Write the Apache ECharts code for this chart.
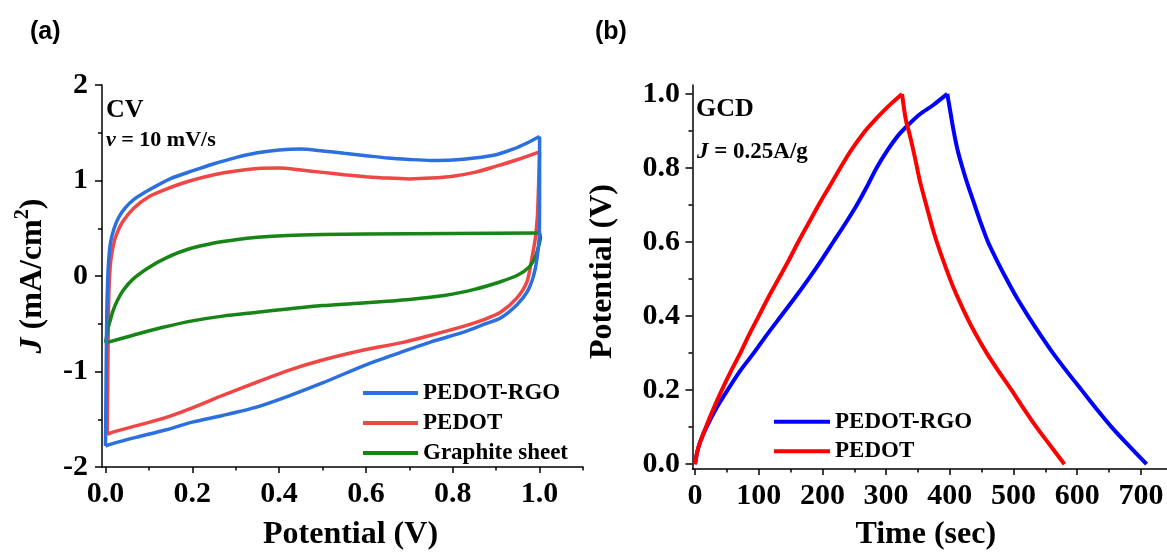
<!DOCTYPE html>
<html><head><meta charset="utf-8">
<script src="https://cdn.jsdelivr.net/npm/echarts@6/dist/echarts.min.js"></script>
<style>html,body{margin:0;padding:0;background:#fff}#c{width:1167px;height:556px}</style>
</head><body><div id="c"></div>
<script>
// ---- tick values ----
const cvXTicks = [0, 0.2, 0.4, 0.6, 0.8, 1.0];
const cvXMinor = [0.1, 0.3, 0.5, 0.7, 0.9, 1.1];
const gcdXTicks = [0, 100, 200, 300, 400, 500, 600, 700];
const gcdXMinor = [50, 150, 250, 350, 450, 550, 650];
const gcdYTicks = [0, 0.2, 0.4, 0.6, 0.8, 1.0];
const gcdYMinor = [0.1, 0.3, 0.5, 0.7, 0.9];

// ---- (a) CV: [potential V, J mA/cm2], anodic (forward) and cathodic (reverse) branches ----
const cvPedotRgoFwd = [
  [0.000,-1.78],[0.001,-1.30],[0.002,-0.80],[0.003,-0.40],[0.005,-0.05],[0.008,0.20],[0.012,0.36],
  [0.02,0.50],[0.03,0.61],[0.045,0.71],[0.065,0.80],[0.10,0.90],[0.15,1.02],[0.20,1.10],[0.25,1.175],
  [0.30,1.24],[0.35,1.29],[0.40,1.32],[0.45,1.33],[0.50,1.31],[0.55,1.285],[0.60,1.26],[0.65,1.235],
  [0.70,1.22],[0.75,1.21],[0.80,1.215],[0.85,1.235],[0.90,1.27],[0.94,1.33],[0.97,1.39],[1.0,1.46]
];
const cvPedotRgoRev = [
  [1.0,1.46],[1.0,1.20],[1.0,0.97],[0.9995,0.45],[0.994,0.18],[0.986,0.0],[0.971,-0.17],[0.948,-0.30],
  [0.91,-0.44],[0.87,-0.51],[0.83,-0.58],[0.75,-0.69],[0.68,-0.80],[0.6,-0.93],[0.5,-1.12],[0.42,-1.26],
  [0.35,-1.37],[0.27,-1.46],[0.2,-1.53],[0.14,-1.61],[0.07,-1.69],[0.02,-1.75],[0.0,-1.78]
];
const cvPedotFwd = [
  [0.004,-1.66],[0.005,-1.25],[0.006,-0.75],[0.007,-0.35],[0.009,-0.05],[0.012,0.15],[0.018,0.32],
  [0.025,0.43],[0.04,0.57],[0.065,0.71],[0.10,0.83],[0.14,0.91],[0.19,0.99],[0.25,1.06],[0.30,1.10],
  [0.35,1.125],[0.40,1.13],[0.45,1.11],[0.50,1.085],[0.55,1.06],[0.60,1.04],[0.65,1.025],[0.70,1.017],
  [0.75,1.025],[0.80,1.045],[0.85,1.085],[0.90,1.15],[0.95,1.22],[1.0,1.30]
];
const cvPedotRev = [
  [1.0,1.30],[0.998,1.0],[0.995,0.63],[0.99,0.39],[0.982,0.18],[0.971,-0.06],[0.948,-0.23],[0.91,-0.38],
  [0.87,-0.46],[0.83,-0.52],[0.75,-0.62],[0.68,-0.70],[0.6,-0.77],[0.5,-0.88],[0.42,-0.99],[0.35,-1.11],
  [0.27,-1.25],[0.2,-1.38],[0.14,-1.48],[0.07,-1.57],[0.02,-1.63],[0.004,-1.66]
];
const cvGraphiteFwd = [
  [0.0,-0.70],[0.003,-0.62],[0.006,-0.54],[0.01,-0.48],[0.017,-0.37],[0.026,-0.27],[0.041,-0.15],
  [0.064,-0.03],[0.10,0.09],[0.14,0.19],[0.19,0.28],[0.25,0.345],[0.30,0.38],[0.35,0.405],[0.42,0.425],
  [0.50,0.435],[0.60,0.44],[0.80,0.445],[1.0,0.45]
];
const cvGraphiteRev = [
  [1.0,0.45],[1.002,0.40],[0.997,0.30],[0.99,0.20],[0.975,0.09],[0.95,0.01],[0.91,-0.06],[0.85,-0.14],
  [0.78,-0.205],[0.70,-0.245],[0.60,-0.28],[0.50,-0.31],[0.42,-0.345],[0.35,-0.38],[0.27,-0.42],
  [0.20,-0.47],[0.13,-0.54],[0.064,-0.62],[0.0,-0.70]
];

// ---- (b) GCD: [time s, potential V], charge and discharge branches ----
const gcdPedotRgoCharge = [
  [0,0],[3,0.03],[8,0.06],[18,0.1],[33,0.15],[51,0.2],[70,0.25],[92,0.3],[113,0.35],[135,0.4],
  [157,0.45],[178,0.5],[198,0.55],[217,0.6],[236,0.65],[254,0.7],[270,0.75],[285,0.8],[303,0.85],
  [320,0.89],[337,0.92],[353,0.945],[374,0.97],[396,1.0]
];
const gcdPedotRgoDischarge = [
  [396,1.0],[400,0.96],[406,0.9],[412,0.85],[420,0.8],[429,0.75],[439,0.7],[449,0.65],[460,0.6],[474,0.55],
  [489,0.5],[505,0.45],[523,0.4],[542,0.35],[562,0.3],[584,0.25],[607,0.2],[630,0.15],[654,0.1],
  [681,0.05],[709,0.0]
];
const gcdPedotCharge = [
  [0,0],[3,0.03],[7,0.055],[17,0.1],[29,0.15],[42,0.2],[56,0.25],[71,0.3],[85,0.35],[100,0.4],
  [115,0.45],[131,0.5],[147,0.55],[162,0.6],[178,0.65],[194,0.7],[211,0.75],[228,0.8],[246,0.85],
  [267,0.9],[280,0.925],[295,0.952],[310,0.977],[325,1.0]
];
const gcdPedotDischarge = [
  [325,1.0],[331,0.93],[337,0.89],[345,0.83],[353,0.765],[363,0.7],[375,0.625],[389,0.553],[405,0.48],
  [426,0.4],[441,0.35],[458,0.3],[477,0.25],[497,0.2],[516,0.15],[536,0.1],[558,0.05],[580,0.0]
];

const SERIF = '"Liberation Serif","Times New Roman",serif';
const cvBlue = '#2b70dd', cvRed = '#f04646', cvGreen = '#168516';
const gBlue = '#0000ff', gRed = '#ff0000';
const axLine = {show: true, onZero: false, lineStyle: {color: '#000', width: 1.5}};
const noLine = {show: false, onZero: false};
const lblStyle = {color: '#000', fontFamily: SERIF, fontWeight: 'bold', fontSize: 30};
const nameStyle = {color: '#000', fontFamily: SERIF, fontWeight: 'bold', fontSize: 32};
const tickLine = {color: '#000', width: 1.5};

function cvLine(name, data, color, z) {
  return {name, type: 'line', xAxisIndex: 0, yAxisIndex: 0, data, showSymbol: false, smooth: 0.25,
          lineStyle: {color, width: 3.5}, itemStyle: {color}, z};
}
function gcdLine(name, data, color) {
  return {name, type: 'line', xAxisIndex: 2, yAxisIndex: 1, data, showSymbol: false, smooth: 0.3,
          lineStyle: {color, width: 4}, itemStyle: {color}};
}

const chart = echarts.init(document.getElementById('c'), null, {renderer: 'canvas'});
chart.setOption({
  animation: false,
  backgroundColor: '#fff',
  grid: [
    {left: 102, top: 85, width: 481, height: 387},
    {left: 692.5, top: 85, width: 474.5, height: 388}
  ],
  xAxis: [
    {type: 'value', gridIndex: 0, position: 'bottom', min: -0.008, max: 1.1,
     axisLine: axLine, splitLine: {show: false},
     axisTick: {show: true, customValues: cvXTicks, length: 6, lineStyle: tickLine},
     axisLabel: {customValues: cvXTicks, margin: 12, ...lblStyle, formatter: v => v.toFixed(1)},
     name: 'Potential (V)', nameLocation: 'middle', nameGap: 52,
     nameTextStyle: {...nameStyle, padding: [0, 0, 0, 16]}},
    {type: 'value', gridIndex: 0, position: 'bottom', min: -0.008, max: 1.1,
     axisLine: noLine, splitLine: {show: false}, axisLabel: {show: false},
     axisTick: {show: true, customValues: cvXMinor, length: 3.5, lineStyle: tickLine}},
    {type: 'value', gridIndex: 1, position: 'bottom', min: -4, max: 741,
     axisLine: axLine, splitLine: {show: false},
     axisTick: {show: true, customValues: gcdXTicks, length: 6, lineStyle: tickLine},
     axisLabel: {customValues: gcdXTicks, margin: 12, ...lblStyle},
     name: 'Time (sec)', nameLocation: 'middle', nameGap: 50,
     nameTextStyle: {...nameStyle, padding: [0, 8, 0, 0]}},
    {type: 'value', gridIndex: 1, position: 'bottom', min: -4, max: 741,
     axisLine: noLine, splitLine: {show: false}, axisLabel: {show: false},
     axisTick: {show: true, customValues: gcdXMinor, length: 3.5, lineStyle: tickLine}}
  ],
  yAxis: [
    {type: 'value', gridIndex: 0, position: 'left', min: -2, max: 2, interval: 1,
     axisLine: axLine, splitLine: {show: false},
     axisTick: {show: true, length: 7, lineStyle: tickLine},
     minorTick: {show: true, splitNumber: 2, length: 4, lineStyle: tickLine},
     axisLabel: {margin: 14, ...lblStyle},
     name: '{i|J}{n| (mA/cm}{s|2}{n|)}', nameLocation: 'middle', nameGap: 49,
     nameTextStyle: {...nameStyle, rich: {
       i: {fontFamily: SERIF, fontWeight: 'bold', fontStyle: 'italic', fontSize: 32, lineHeight: 40, color: '#000'},
       n: {fontFamily: SERIF, fontWeight: 'bold', fontSize: 32, lineHeight: 40, color: '#000'},
       s: {fontFamily: SERIF, fontWeight: 'bold', fontSize: 20, lineHeight: 20, verticalAlign: 'top', color: '#000'}
     }}},
    {type: 'value', gridIndex: 1, position: 'left', min: -0.013, max: 1.024,
     axisLine: axLine, splitLine: {show: false},
     axisTick: {show: true, customValues: gcdYTicks, length: 7, lineStyle: tickLine},
     axisLabel: {customValues: gcdYTicks, margin: 12.5, ...lblStyle, formatter: v => v.toFixed(1)},
     name: 'Potential (V)', nameLocation: 'middle', nameGap: 74,
     nameTextStyle: {...nameStyle, padding: [0, 0, 0, 11]}},
    {type: 'value', gridIndex: 1, position: 'left', min: -0.013, max: 1.024,
     axisLine: noLine, splitLine: {show: false}, axisLabel: {show: false},
     axisTick: {show: true, customValues: gcdYMinor, length: 4, lineStyle: tickLine}}
  ],
  legend: [
    {left: 363, top: 378, orient: 'vertical', padding: 0, itemGap: 0, itemWidth: 55, itemHeight: 4,
     icon: 'rect', selectedMode: false,
     textStyle: {color: '#000', fontFamily: SERIF, fontWeight: 'bold', fontSize: 23, lineHeight: 30},
     data: [{name: 'PEDOT-RGO', itemStyle: {color: cvBlue}},
            {name: 'PEDOT', itemStyle: {color: cvRed}},
            {name: 'Graphite sheet', itemStyle: {color: cvGreen}}]},
    {left: 774, top: 407, orient: 'vertical', padding: 0, itemGap: 0, itemWidth: 56, itemHeight: 4,
     icon: 'rect', selectedMode: false,
     textStyle: {color: '#000', fontFamily: SERIF, fontWeight: 'bold', fontSize: 23, lineHeight: 29.5},
     data: [{name: 'PEDOT-RGO', itemStyle: {color: gBlue}},
            {name: 'PEDOT', itemStyle: {color: gRed}}]}
  ],
  graphic: [
    {type: 'text', x: 30, y: 32, style: {text: '(a)', fill: '#000', fontFamily: '"Liberation Sans",Arial,sans-serif', fontWeight: 'bold', fontSize: 25, verticalAlign: 'middle'}},
    {type: 'text', x: 595, y: 32, style: {text: '(b)', fill: '#000', fontFamily: '"Liberation Sans",Arial,sans-serif', fontWeight: 'bold', fontSize: 25, verticalAlign: 'middle'}},
    {type: 'text', x: 106, y: 110, style: {text: 'CV', fill: '#000', fontFamily: SERIF, fontWeight: 'bold', fontSize: 26, verticalAlign: 'middle'}},
    {type: 'text', x: 106, y: 140, style: {text: '{i|v}{n| = 10 mV/s}', verticalAlign: 'middle',
      rich: {i: {fill: '#000', fontFamily: SERIF, fontWeight: 'bold', fontStyle: 'italic', fontSize: 22},
             n: {fill: '#000', fontFamily: SERIF, fontWeight: 'bold', fontSize: 22}}}},
    {type: 'text', x: 696, y: 109, style: {text: 'GCD', fill: '#000', fontFamily: SERIF, fontWeight: 'bold', fontSize: 26, verticalAlign: 'middle'}},
    {type: 'text', x: 697, y: 152.5, style: {text: '{i|J}{n| = 0.25A/g}', verticalAlign: 'middle',
      rich: {i: {fill: '#000', fontFamily: SERIF, fontWeight: 'bold', fontStyle: 'italic', fontSize: 23},
             n: {fill: '#000', fontFamily: SERIF, fontWeight: 'bold', fontSize: 23}}}}
  ],
  series: [
    cvLine('PEDOT-RGO', cvPedotRgoFwd, cvBlue, 3),
    cvLine('PEDOT-RGO', cvPedotRgoRev, cvBlue, 3),
    cvLine('PEDOT', cvPedotFwd, cvRed, 2),
    cvLine('PEDOT', cvPedotRev, cvRed, 2),
    cvLine('Graphite sheet', cvGraphiteFwd, cvGreen, 2),
    cvLine('Graphite sheet', cvGraphiteRev, cvGreen, 2),
    gcdLine('PEDOT-RGO', gcdPedotRgoCharge, gBlue),
    gcdLine('PEDOT-RGO', gcdPedotRgoDischarge, gBlue),
    gcdLine('PEDOT', gcdPedotCharge, gRed),
    gcdLine('PEDOT', gcdPedotDischarge, gRed)
  ]
});
</script></body></html>
